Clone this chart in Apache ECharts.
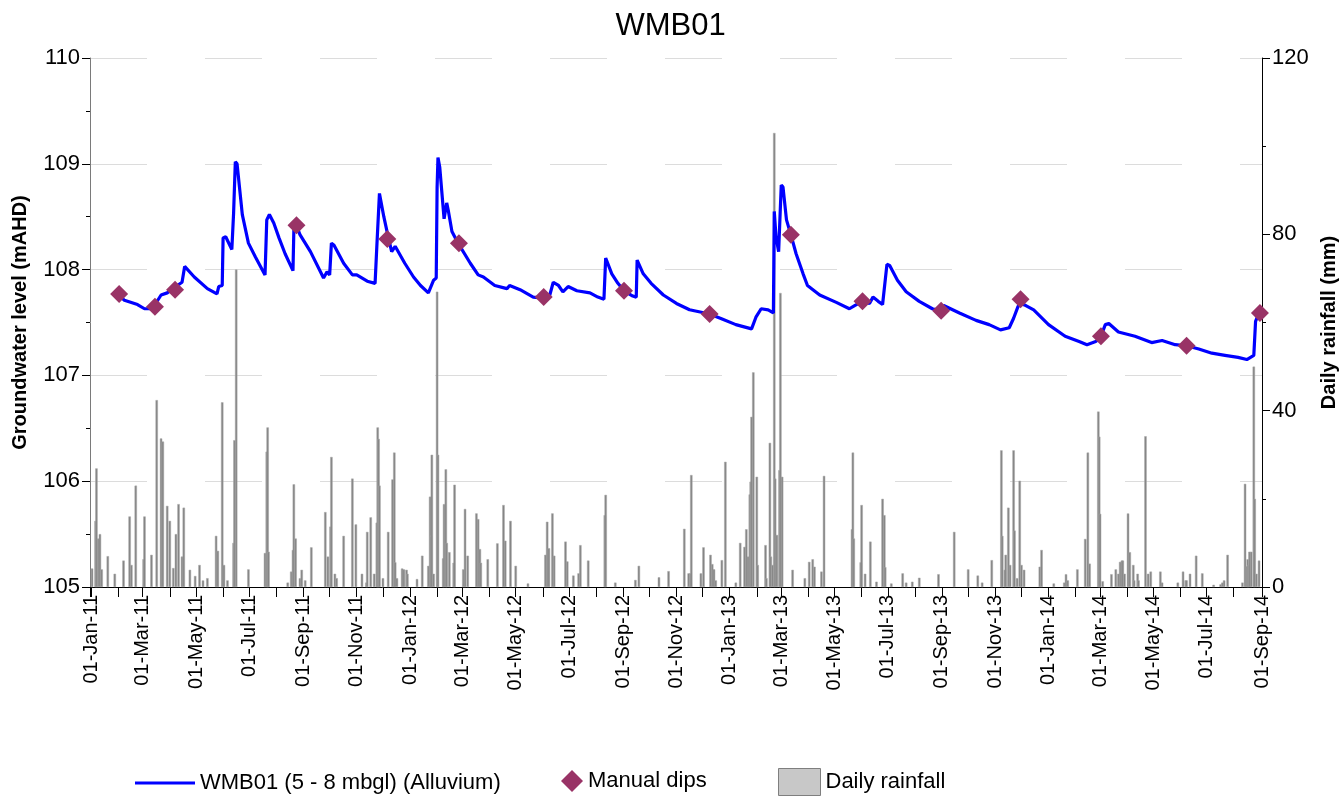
<!DOCTYPE html>
<html>
<head>
<meta charset="utf-8">
<script src="https://cdn.jsdelivr.net/npm/echarts@6/dist/echarts.min.js"></script>
<style>
  html, body { margin: 0; padding: 0; background: #fff; }
  #chart { width: 1341px; height: 796px; }
</style>
</head>
<body>
<div id="chart"></div>
<script>
// groundwater level (mAHD)
const gwDates = [
  '2011-02-02','2011-02-08','2011-02-23','2011-03-03','2011-03-12','2011-03-22','2011-03-29','2011-04-08',
  '2011-04-15','2011-04-18','2011-04-20','2011-04-29','2011-05-14','2011-05-25','2011-05-27','2011-05-31',
  '2011-06-01','2011-06-04','2011-06-11','2011-06-13','2011-06-15','2011-06-17','2011-06-23','2011-06-30',
  '2011-07-08','2011-07-19','2011-07-21','2011-07-24','2011-07-29','2011-08-04','2011-08-11','2011-08-20',
  '2011-08-21','2011-08-24','2011-08-28','2011-09-09','2011-09-24','2011-09-28','2011-10-01','2011-10-03',
  '2011-10-06','2011-10-17','2011-10-27','2011-11-01','2011-11-13','2011-11-22','2011-11-24','2011-11-27',
  '2011-12-02','2011-12-07','2011-12-11','2011-12-15','2011-12-26','2012-01-05','2012-01-13','2012-01-22',
  '2012-01-28','2012-01-31','2012-02-01','2012-02-02','2012-02-04','2012-02-09','2012-02-12','2012-02-14',
  '2012-02-18','2012-02-25','2012-03-10','2012-03-19','2012-03-25','2012-04-07','2012-04-21','2012-04-24',
  '2012-05-06','2012-05-21','2012-06-02','2012-06-09','2012-06-13','2012-06-19','2012-06-24','2012-06-30',
  '2012-07-10','2012-07-25','2012-08-03','2012-08-10','2012-08-12','2012-08-19','2012-08-26','2012-09-02',
  '2012-09-12','2012-09-16','2012-09-17','2012-09-24','2012-10-03','2012-10-17','2012-11-01','2012-11-16',
  '2012-12-09','2012-12-24','2013-01-08','2013-01-26','2013-01-31','2013-02-06','2013-02-14','2013-02-20',
  '2013-02-21','2013-02-23','2013-02-26','2013-03-01','2013-03-03','2013-03-07','2013-03-12','2013-03-18',
  '2013-03-26','2013-03-31','2013-04-14','2013-05-03','2013-05-18','2013-05-24','2013-06-02','2013-06-10',
  '2013-06-14','2013-06-20','2013-06-25','2013-06-30','2013-07-03','2013-07-12','2013-07-22','2013-08-06',
  '2013-08-21','2013-08-31','2013-09-03','2013-09-21','2013-10-10','2013-10-25','2013-11-07','2013-11-17',
  '2013-11-22','2013-11-27','2013-11-30','2013-12-06','2013-12-15','2014-01-01','2014-01-20','2014-02-05',
  '2014-02-14','2014-02-24','2014-03-01','2014-03-07','2014-03-11','2014-03-22','2014-04-10','2014-04-29',
  '2014-05-11','2014-05-26','2014-06-08','2014-06-22','2014-07-07','2014-07-22','2014-08-06','2014-08-16',
  '2014-08-24','2014-08-26','2014-08-30'
];
const gwLevels = [
  107.76,107.71,107.67,107.63,107.63,107.76,107.78,107.84,
  107.88,108.03,108.03,107.93,107.82,107.77,107.84,107.85,
  108.30,108.31,108.19,108.53,109.02,109.00,108.52,108.25,
  108.12,107.95,108.47,108.52,108.44,108.30,108.15,107.99,
  108.37,108.42,108.33,108.17,107.92,107.98,107.95,108.25,
  108.23,108.06,107.95,107.95,107.89,107.87,108.22,108.72,
  108.50,108.31,108.17,108.22,108.06,107.93,107.85,107.78,
  107.90,107.92,108.78,109.06,108.97,108.48,108.63,108.55,
  108.36,108.25,108.06,107.95,107.93,107.85,107.82,107.85,
  107.81,107.74,107.73,107.76,107.88,107.85,107.79,107.84,
  107.80,107.78,107.74,107.72,108.11,107.96,107.87,107.80,
  107.75,107.74,108.09,107.96,107.87,107.76,107.68,107.62,
  107.58,107.53,107.48,107.44,107.55,107.63,107.62,107.59,
  108.55,108.31,108.17,108.80,108.78,108.47,108.33,108.15,
  107.96,107.85,107.76,107.69,107.63,107.66,107.70,107.68,
  107.74,107.70,107.67,108.05,108.04,107.90,107.79,107.70,
  107.63,107.61,107.66,107.59,107.52,107.48,107.43,107.45,
  107.54,107.65,107.68,107.66,107.62,107.48,107.37,107.32,
  107.29,107.32,107.35,107.48,107.49,107.41,107.37,107.31,
  107.33,107.29,107.28,107.25,107.21,107.19,107.17,107.15,
  107.19,107.51,107.59
];

// manual dip readings (mAHD)
const dipDates = [
  '2011-02-02','2011-03-15','2011-04-07','2011-08-24','2011-12-06','2012-02-26','2012-06-02','2012-09-02',
  '2012-12-09','2013-03-12','2013-06-02','2013-08-31','2013-11-30','2014-03-02','2014-06-08','2014-08-31'
];
const dipLevels = [
  107.77,107.65,107.81,108.42,108.29,108.25,107.74,107.80,
  107.58,108.33,107.70,107.61,107.72,107.37,107.28,107.59
];

// daily rainfall (mm)
const rainDates = [
  '2011-01-02','2011-01-06','2011-01-07','2011-01-09','2011-01-11','2011-01-13','2011-01-20','2011-01-28',
  '2011-02-07','2011-02-14','2011-02-16','2011-02-21','2011-03-02','2011-03-03','2011-03-11','2011-03-17',
  '2011-03-22','2011-03-24','2011-03-29','2011-04-01','2011-04-05','2011-04-08','2011-04-11','2011-04-15',
  '2011-04-17','2011-04-24','2011-04-30','2011-05-05','2011-05-09','2011-05-14','2011-05-24','2011-05-26',
  '2011-05-31','2011-06-02','2011-06-06','2011-06-13','2011-06-14','2011-06-16','2011-06-30','2011-07-19',
  '2011-07-21','2011-07-22','2011-07-23','2011-08-14','2011-08-18','2011-08-20','2011-08-21','2011-08-23',
  '2011-08-28','2011-08-30','2011-09-03','2011-09-10','2011-09-26','2011-09-29','2011-10-02','2011-10-03',
  '2011-10-07','2011-10-09','2011-10-17','2011-10-27','2011-10-31','2011-11-07','2011-11-12','2011-11-13',
  '2011-11-17','2011-11-21','2011-11-24','2011-11-25','2011-11-26','2011-11-27','2011-12-01','2011-12-07',
  '2011-12-12','2011-12-14','2011-12-15','2011-12-17','2011-12-23','2011-12-25','2011-12-28','2011-12-29',
  '2012-01-09','2012-01-15','2012-01-22','2012-01-24','2012-01-25','2012-01-26','2012-01-28','2012-02-01',
  '2012-02-02','2012-02-08','2012-02-09','2012-02-11','2012-02-12','2012-02-15','2012-02-20','2012-02-21',
  '2012-03-02','2012-03-04','2012-03-07','2012-03-17','2012-03-19','2012-03-21','2012-03-22','2012-03-30',
  '2012-04-10','2012-04-17','2012-04-19','2012-04-25','2012-05-01','2012-05-15','2012-06-04','2012-06-06',
  '2012-06-08','2012-06-12','2012-06-14','2012-06-27','2012-06-29','2012-07-06','2012-07-12','2012-07-14',
  '2012-07-23','2012-08-11','2012-08-12','2012-08-23','2012-09-15','2012-09-19','2012-10-12','2012-10-23',
  '2012-11-10','2012-11-15','2012-11-17','2012-11-18','2012-11-29','2012-12-02','2012-12-10','2012-12-12',
  '2012-12-14','2012-12-16','2012-12-23','2012-12-27','2013-01-08','2013-01-13','2013-01-18','2013-01-20',
  '2013-01-22','2013-01-24','2013-01-25','2013-01-26','2013-01-28','2013-02-01','2013-02-02','2013-02-11',
  '2013-02-12','2013-02-16','2013-02-17','2013-02-19','2013-02-21','2013-02-22','2013-02-24','2013-02-27',
  '2013-02-28','2013-03-02','2013-03-14','2013-03-28','2013-04-02','2013-04-06','2013-04-08','2013-04-16',
  '2013-04-19','2013-05-21','2013-05-22','2013-05-23','2013-05-31','2013-06-01','2013-06-05','2013-06-11',
  '2013-06-18','2013-06-25','2013-06-27','2013-06-28','2013-07-05','2013-07-18','2013-07-22','2013-07-29',
  '2013-08-06','2013-08-28','2013-09-15','2013-10-01','2013-10-12','2013-10-17','2013-10-28','2013-11-08',
  '2013-11-09','2013-11-12','2013-11-13','2013-11-16','2013-11-18','2013-11-22','2013-11-23','2013-11-26',
  '2013-11-29','2013-12-01','2013-12-04','2013-12-22','2013-12-24','2014-01-07','2014-01-19','2014-01-21',
  '2014-01-23','2014-02-03','2014-02-12','2014-02-15','2014-02-17','2014-02-27','2014-02-28','2014-03-01',
  '2014-03-04','2014-03-14','2014-03-19','2014-03-22','2014-03-24','2014-03-26','2014-03-27','2014-03-29',
  '2014-04-02','2014-04-04','2014-04-08','2014-04-09','2014-04-13','2014-04-14','2014-04-22','2014-04-25',
  '2014-04-28','2014-05-09','2014-05-11','2014-05-29','2014-06-04','2014-06-07','2014-06-08','2014-06-12',
  '2014-06-19','2014-06-26','2014-07-09','2014-07-17','2014-07-19','2014-07-21','2014-07-25','2014-08-11',
  '2014-08-14','2014-08-16','2014-08-17','2014-08-18','2014-08-19','2014-08-21','2014-08-24','2014-08-25',
  '2014-08-27','2014-08-30'
];
const rainMm = [
  4.2,15,26.9,11,12,4,7,3,
  6,16,5,23,6.3,16,7.3,42.4,
  33.7,33,18.4,15,4.3,12,18.8,6.9,
  18,3.9,2.5,5,1.5,2,11.6,8.2,
  41.9,5,1.5,10,33.3,72,4,7.7,
  30.7,36.2,8,1,3.5,8.4,23.3,11,
  2,3.9,1.5,9,17,6.9,13.7,29.5,
  3,2,11.6,24.6,14.2,3,1,12.5,
  15.8,3,14.6,36.2,33.6,23,2,12.5,
  24.4,30.5,5.6,2,4.2,4,3.9,3,
  1.8,7.1,4.8,20.5,11.6,30,3,67,
  30,6.5,18.8,26.7,10,7.9,5.5,23.2,
  4,17.7,7.1,16.7,15.4,8.6,5.5,6.3,
  9.9,18.6,10.5,15,4.8,0.8,7.3,14.8,
  8.8,16.7,7.1,10.3,5.8,2.6,3.1,9.5,
  6,16.3,20.9,1,1.6,4.8,2.2,3.6,
  13.2,3.1,3.1,25.4,3.1,9,7.3,5.2,
  4,1.5,6.1,28.4,1,10,9.1,13.1,
  6.9,21,23.9,38.6,48.7,25,5,9.5,
  2,32.7,6.9,5,103,24.6,11.8,26.5,
  66.7,25,3.9,2,5.7,6.3,4.6,3.5,
  25.2,13.1,30.5,11,5.6,18.6,3,10.3,
  1.2,20,16.3,4.5,0.8,3.1,1,1.2,
  2.1,2.9,12.5,4,2.6,1,6.1,31,
  11.6,3.9,7.3,18,5,31,12.8,2,
  24.1,5,3.9,4.6,8.4,0.8,1,2.9,
  1.5,4,10.9,30.5,5.3,39.8,34.1,16.6,
  1.3,2.9,4,3,5.7,6,6,3,
  16.7,7.9,5,1.5,3,1.5,34.2,3,
  3.5,3.5,1,1,3.5,1.5,1.5,3,
  7.1,3.1,0.5,0.6,1,1.5,7.3,1,
  23.4,4.7,6.3,5,8,8,50,20,
  3,6
];

const monthNames = ['Jan','Feb','Mar','Apr','May','Jun','Jul','Aug','Sep','Oct','Nov','Dec'];
const dayMs = 24 * 3600 * 1000;

const lineName = 'WMB01 (5 - 8 mbgl) (Alluvium)';
const dipName = 'Manual dips';
const rainName = 'Daily rainfall';

const chart = echarts.init(document.getElementById('chart'));
const font = 'Liberation Sans, Arial, sans-serif';

const legendText = { fontSize: 22, color: '#000', fontFamily: font };

const option = {
    backgroundColor: '#fff',
    animation: false,
    textStyle: { fontFamily: font },
    title: {
        text: 'WMB01',
        left: 'center',
        top: 6,
        textStyle: { fontSize: 31, fontWeight: 'normal', color: '#000', fontFamily: font }
    },
    legend: [
        {
            left: 130, top: 767,
            itemWidth: 60, itemHeight: 3,
            itemGap: 6,
            textStyle: legendText,
            data: [{ name: lineName, icon: 'rect', itemStyle: { color: '#0000ff' } }]
        },
        {
            left: 556, top: 765,
            itemWidth: 22, itemHeight: 22,
            textStyle: legendText,
            data: [{ name: dipName, icon: 'diamond', itemStyle: { color: '#993366', opacity: 1 } }]
        },
        {
            left: 773, top: 763,
            itemWidth: 42, itemHeight: 27,
            textStyle: legendText,
            data: [{ name: rainName, icon: 'rect', itemStyle: { color: '#c8c8c8', borderColor: '#7f7f7f', borderWidth: 1 } }]
        }
    ],
    grid: { left: 90, right: 79, top: 58, bottom: 209, outerBoundsMode: 'none' },
    xAxis: {
        type: 'time',
        min: '2011-01-01',
        max: '2014-09-01',
        minInterval: 28 * dayMs,
        maxInterval: 31 * dayMs,
        axisLine: { lineStyle: { color: '#000', width: 1 } },
        axisTick: { show: true, length: 10, lineStyle: { color: '#000' } },
        splitLine: { show: false },
        axisLabel: {
            rotate: 90,
            fontSize: 20,
            color: '#000',
            margin: 8,
            hideOverlap: false,
            showMinLabel: true,
            showMaxLabel: true,
            formatter: function (v) {
                const d = new Date(v);
                if (d.getMonth() % 2 === 1) return '';
                return '01-' + monthNames[d.getMonth()] + '-' + String(d.getFullYear()).slice(2);
            }
        }
    },
    yAxis: [
        {
            type: 'value',
            min: 105, max: 110, interval: 1,
            name: 'Groundwater level (mAHD)',
            nameLocation: 'middle',
            nameRotate: 90,
            nameGap: 60,
            nameTextStyle: { fontSize: 20, fontWeight: 'bold', color: '#000', fontFamily: font },
            axisLine: { show: true, lineStyle: { color: '#7a7a7a' } },
            axisTick: { show: true, length: 8, lineStyle: { color: '#000' } },
            minorTick: { show: true, splitNumber: 2, length: 4, lineStyle: { color: '#000' } },
            axisLabel: { fontSize: 22, color: '#000', margin: 10 },
            splitLine: { show: true, lineStyle: { color: '#dcdcdc', width: 1, type: [57, 58] } }
        },
        {
            type: 'value',
            position: 'right',
            min: 0, max: 120, interval: 40,
            name: 'Daily rainfall (mm)',
            nameLocation: 'middle',
            nameRotate: 90,
            nameGap: 56,
            nameTextStyle: { fontSize: 20, fontWeight: 'bold', color: '#000', fontFamily: font },
            axisLine: { show: true, lineStyle: { color: '#000' } },
            axisTick: { show: true, length: 8, lineStyle: { color: '#000' } },
            minorTick: { show: true, splitNumber: 2, length: 4, lineStyle: { color: '#000' } },
            axisLabel: { fontSize: 22, color: '#000', margin: 10 },
            splitLine: { show: false }
        }
    ],
    series: [
        {
            name: rainName,
            type: 'bar',
            yAxisIndex: 1,
            barWidth: 2.4,
            z: 1,
            itemStyle: { color: '#858585', borderColor: '#a8a8a8', borderWidth: 0.5 },
            data: rainDates.map((d, i) => [d, rainMm[i]])
        },
        {
            name: lineName,
            type: 'line',
            yAxisIndex: 0,
            showSymbol: false,
            symbol: 'none',
            z: 3,
            lineStyle: { color: '#0000ff', width: 3.2 },
            itemStyle: { color: '#0000ff' },
            data: gwDates.map((d, i) => [d, gwLevels[i]])
        },
        {
            name: dipName,
            type: 'scatter',
            yAxisIndex: 0,
            symbol: 'diamond',
            symbolSize: 18,
            z: 4,
            itemStyle: { color: '#993366', opacity: 1 },
            data: dipDates.map((d, i) => [d, dipLevels[i]])
        }
    ]
};

chart.setOption(option);
</script>
</body>
</html>
